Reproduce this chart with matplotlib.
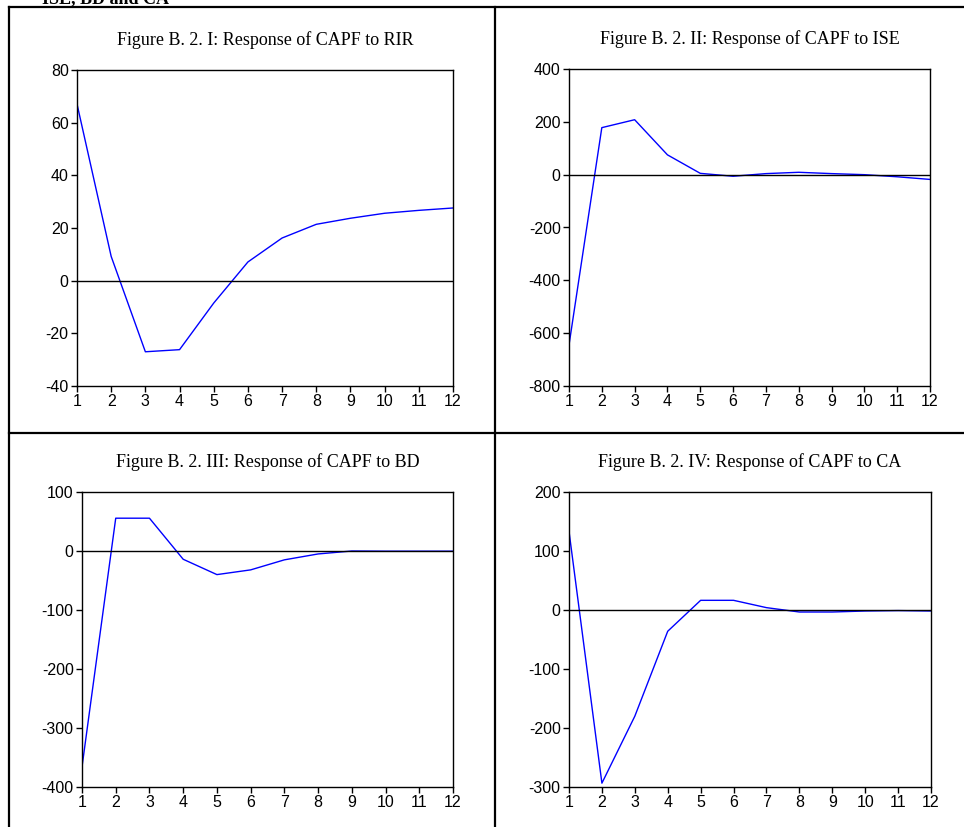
import matplotlib
matplotlib.use("Agg")
import matplotlib.pyplot as plt
from matplotlib.lines import Line2D

plt.rcParams["axes.unicode_minus"] = False

# impulse response horizons
periods = list(range(1, 13))

# responses of CAPF
resp_rir = [67.1, 9.2, -27.0, -26.2, -8.5, 7.1, 16.2, 21.4, 23.7, 25.6, 26.7, 27.6]
resp_ise = [-645, 178, 208, 75, 5, -6, 4, 9, 4, 0, -8, -18]
resp_bd = [-366, 55.6, 55.6, -14, -40, -32, -15, -5, 0, -0.3, -0.3, -0.3]
resp_ca = [133.5, -293.5, -180, -36, 16.4, 16.4, 4, -3.4, -3.4, -1.7, -1.0, -1.7]

titles = [
    "Figure B. 2. I: Response of CAPF to RIR",
    "Figure B. 2. II: Response of CAPF to ISE",
    "Figure B. 2. III: Response of CAPF to BD",
    "Figure B. 2. IV: Response of CAPF to CA",
]
series = [resp_rir, resp_ise, resp_bd, resp_ca]
y_ranges = [(-40, 80, 20), (-800, 400, 200), (-400, 100, 100), (-300, 200, 100)]

W, H = 964, 827
fig = plt.figure(figsize=(W / 100, H / 100), dpi=100)

# axes boxes in pixels: left, right, top, bottom
boxes = [(77, 453, 70, 386), (569, 930, 69, 386), (82, 453, 492, 787), (569, 931, 492, 787)]

for title, vals, (lo, hi, step), (l, r, t, b) in zip(titles, series, y_ranges, boxes):
    ax = fig.add_axes([l / W, 1 - b / H, (r - l) / W, (b - t) / H])
    ax.plot(periods, vals, color="#0000ff", lw=1.0)
    ax.axhline(0, color="black", lw=1.0)
    ax.set_xlim(1, 12)
    ax.set_ylim(lo, hi)
    ax.set_xticks(periods)
    ax.set_yticks(range(lo, hi + 1, step))
    ax.tick_params(direction="out", length=4, width=1, labelsize=11.5, pad=2)
    for lab in ax.get_xticklabels() + ax.get_yticklabels():
        lab.set_family("Liberation Sans")
    for sp in ax.spines.values():
        sp.set_linewidth(1.0)
    ax.set_title(title, family="Liberation Serif", fontsize=13, pad=18)

# table borders around the panels
lw = 1.6
fig.add_artist(Line2D([9 / W, 1], [1 - 7 / H, 1 - 7 / H], color="black", lw=lw))
fig.add_artist(Line2D([9 / W, 9 / W], [0, 1 - 7 / H], color="black", lw=lw))
fig.add_artist(Line2D([495 / W, 495 / W], [0, 1 - 7 / H], color="black", lw=lw))
fig.add_artist(Line2D([9 / W, 1], [1 - 433 / H, 1 - 433 / H], color="black", lw=lw))

# clipped heading carried over from the page above
fig.text(42 / W, 1 - 3 / H, "ISE, BD and CA", family="Liberation Serif",
         fontweight="bold", fontsize=13, va="baseline", ha="left")

fig.savefig("out.png", dpi=100)
